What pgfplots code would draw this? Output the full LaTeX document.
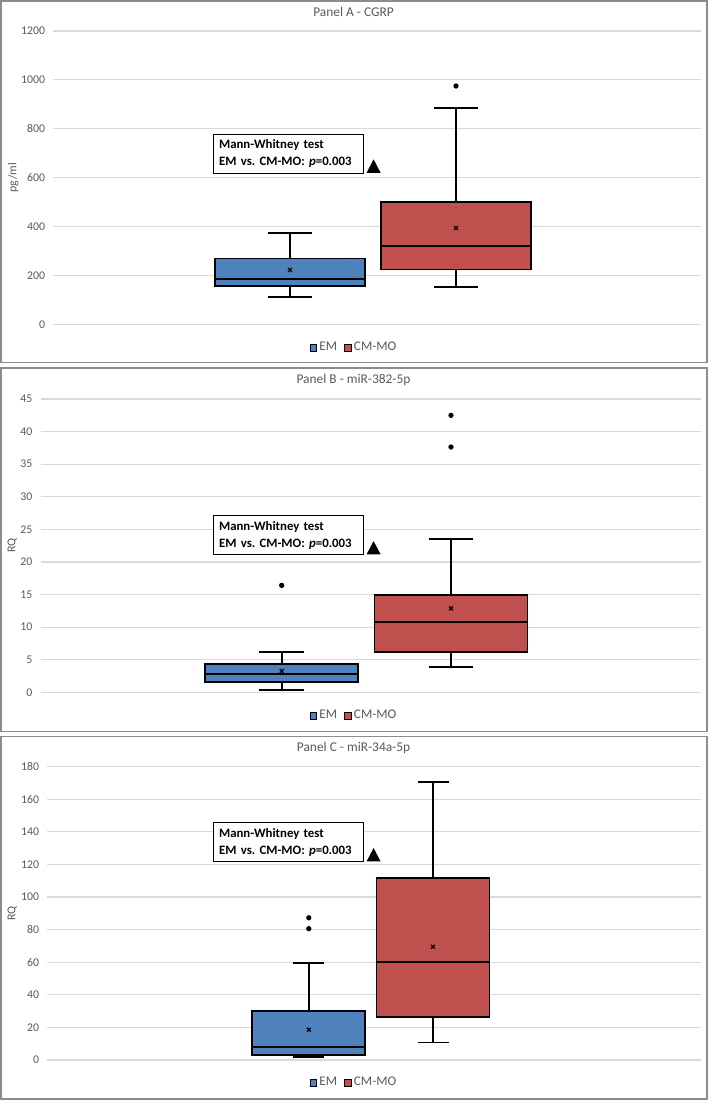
\documentclass[border=0pt]{standalone}
\usepackage{pgfplots}
\pgfplotsset{compat=1.18}
\usepgfplotslibrary{statistics}
\usepackage{fontspec}
\setmainfont{Carlito}
\definecolor{emblue}{HTML}{4F81BD}
\definecolor{cmred}{HTML}{C0504D}
\definecolor{txtgray}{HTML}{595959}
\definecolor{gridgray}{HTML}{D9D9D9}
\definecolor{framegray}{HTML}{8C8C8C}
\pgfplotsset{
  panel/.style={
    anchor=south west, scale only axis,
    xtick=\empty, axis line style={draw=none}, major tick length=0pt,
    ymajorgrids, major grid style={draw=gridgray, line width=0.6pt},
    /pgf/number format/assume math mode=true,
    /pgf/number format/1000 sep={},
    yticklabel style={font=\fontsize{5.9}{7}\selectfont, text=txtgray, xshift=-0.6pt},
    legend columns=-1,
    legend cell align=left,
    boxplot/draw direction=y,
  },
  boxA/.style={draw=black, line width=0.9pt, fill=emblue, solid},
  boxB/.style={draw=black, line width=0.9pt, fill=cmred, solid},
  meanmark/.style={only marks, mark=x, mark size=1.35pt, black, line width=0.65pt, forget plot},
  outl/.style={only marks, mark=*, mark size=1.1pt, black, forget plot},
}
\newcommand{\legims}{%
  \addlegendimage{legend image code/.code={\draw[fill=emblue,draw=black,line width=0.5pt] (0pt,-1.7pt) rectangle (3.4pt,1.7pt);}}
  \addlegendentry{EM}
  \addlegendimage{legend image code/.code={\draw[fill=cmred,draw=black,line width=0.5pt] (0pt,-1.7pt) rectangle (3.4pt,1.7pt);}}
  \addlegendentry{CM-MO}
}
\newcommand{\annot}[2]{%
  \node[draw=black, line width=0.5pt, fill=white, anchor=north west, inner xsep=3pt, inner ysep=0pt,
        text width=69.2pt, minimum height=19.5pt, align=left,
        font=\fontsize{6.4}{8.3}\selectfont\bfseries] at (axis cs:212.6,#1)
        {Mann-Whitney test\\EM vs.\ CM-MO: \textit{p}=0.003};
}
\begin{document}
\begin{tikzpicture}
\useasboundingbox (0pt,0pt) rectangle (354pt,-550pt);
\draw[framegray, line width=0.8pt] (0.4pt,-0.4pt) rectangle (353.6pt,-181.3pt);
\draw[framegray, line width=0.8pt] (0.4pt,-184pt) rectangle (353.6pt,-365.8pt);
\draw[framegray, line width=0.8pt] (0.4pt,-368.3pt) rectangle (353.6pt,-549.4pt);

% ---------------- Panel A ----------------
\begin{axis}[panel,
  at={(26.65pt,-162.15pt)}, width=323.7pt, height=146.65pt,
  xmin=53.3, xmax=700.7, ymin=0, ymax=1200, ytick={0,200,...,1200},
  every axis title/.style={at={(0.4637,1)}, anchor=center, yshift=9.5pt,
     font=\fontsize{6.7}{8}\selectfont, text=txtgray},
  title={Panel A - CGRP},
  every axis y label/.style={at={(-0.062,0.5)}, rotate=90, anchor=center,
     font=\fontsize{6}{7}\selectfont, text=txtgray},
  ylabel={pg/ml},
  legend style={at={(0.4645,-0.0798)}, anchor=center, draw=none, fill=none,
     font=\fontsize{6.6}{8}\selectfont, text=txtgray,
     /tikz/every even column/.append style={column sep=2.5pt}, nodes={inner xsep=1pt}},
]
\legims
\addplot[boxA, forget plot, boxplot prepared={draw direction=y, draw position=290, box extend=150, whisker extend=44,
  lower whisker=113, lower quartile=157, median=184, upper quartile=269, upper whisker=375}] coordinates {};
\addplot[boxB, forget plot, boxplot prepared={draw direction=y, draw position=456, box extend=150, whisker extend=44,
  lower whisker=153, lower quartile=224, median=322, upper quartile=502, upper whisker=885}] coordinates {};
\addplot[meanmark] coordinates {(290,222) (456,394)};
\addplot[outl] coordinates {(456,975)};
\annot{780}{622}
\fill[black] (axis cs:366.6,620) -- (axis cs:380.6,620) -- (axis cs:373.6,675) -- cycle;
\end{axis}

% ---------------- Panel B ----------------
\begin{axis}[panel,
  at={(20.3pt,-346.15pt)}, width=330.05pt, height=146.65pt,
  xmin=40.6, xmax=700.7, ymin=0, ymax=45, ytick={0,5,...,45},
  every axis title/.style={at={(0.474,1)}, anchor=center, yshift=9.5pt,
     font=\fontsize{6.7}{8}\selectfont, text=txtgray},
  title={Panel B - miR-382-5p},
  every axis y label/.style={at={(-0.043,0.5)}, rotate=90, anchor=center,
     font=\fontsize{6}{7}\selectfont, text=txtgray},
  ylabel={RQ},
  legend style={at={(0.4748,-0.0808)}, anchor=center, draw=none, fill=none,
     font=\fontsize{6.6}{8}\selectfont, text=txtgray,
     /tikz/every even column/.append style={column sep=2.5pt}, nodes={inner xsep=1pt}},
]
\legims
\addplot[boxA, forget plot, boxplot prepared={draw direction=y, draw position=281.7, box extend=153, whisker extend=44.5,
  lower whisker=0.36, lower quartile=1.64, median=2.76, upper quartile=4.35, upper whisker=6.24}] coordinates {};
\addplot[boxB, forget plot, boxplot prepared={draw direction=y, draw position=451, box extend=153, whisker extend=44.5,
  lower whisker=3.84, lower quartile=6.24, median=10.84, upper quartile=14.93, upper whisker=23.52}] coordinates {};
\addplot[meanmark] coordinates {(281.7,3.27) (451,12.88)};
\addplot[outl] coordinates {(281.7,16.41) (451,37.63) (451,42.49)};
\annot{27.15}{21.17}
\fill[black] (axis cs:366.6,21.17) -- (axis cs:380.6,21.17) -- (axis cs:373.6,23.2) -- cycle;
\end{axis}

% ---------------- Panel C ----------------
\begin{axis}[panel,
  at={(23.7pt,-530pt)}, width=326.65pt, height=146.65pt,
  xmin=47.4, xmax=700.7, ymin=0, ymax=180, ytick={0,20,...,180},
  every axis title/.style={at={(0.4686,1)}, anchor=center, yshift=9.2pt,
     font=\fontsize{6.7}{8}\selectfont, text=txtgray},
  title={Panel C - miR-34a-5p},
  every axis y label/.style={at={(-0.0539,0.5)}, rotate=90, anchor=center,
     font=\fontsize{6}{7}\selectfont, text=txtgray},
  ylabel={RQ},
  legend style={at={(0.4693,-0.0774)}, anchor=center, draw=none, fill=none,
     font=\fontsize{6.6}{8}\selectfont, text=txtgray,
     /tikz/every even column/.append style={column sep=2.5pt}, nodes={inner xsep=1pt}},
]
\legims
\addplot[boxA, forget plot, boxplot prepared={draw direction=y, draw position=308.8, box extend=113, whisker extend=31,
  lower whisker=1.84, lower quartile=2.86, median=7.98, upper quartile=30.1, upper whisker=59.5}] coordinates {};
\addplot[boxB, forget plot, boxplot prepared={draw direction=y, draw position=433, box extend=113, whisker extend=31,
  lower whisker=10.8, lower quartile=26.6, median=60.3, upper quartile=111.7, upper whisker=170.4}] coordinates {};
\addplot[meanmark] coordinates {(308.8,18.6) (433,69.5)};
\addplot[outl] coordinates {(308.8,80.6) (308.8,87.3)};
\annot{145.8}{121.9}
\fill[black] (axis cs:366.6,121.9) -- (axis cs:380.6,121.9) -- (axis cs:373.6,130.1) -- cycle;
\end{axis}
\end{tikzpicture}
\end{document}
